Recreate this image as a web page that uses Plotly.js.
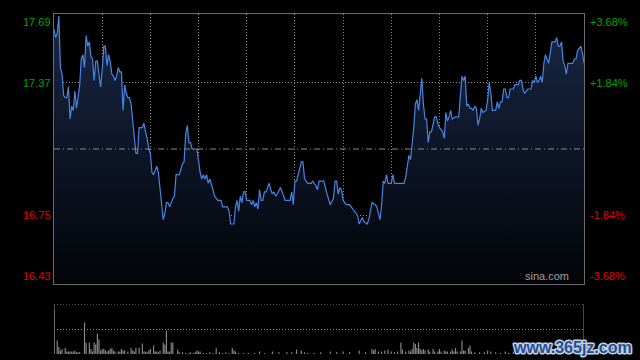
<!DOCTYPE html>
<html>
<head>
<meta charset="utf-8">
<script src="https://cdn.plot.ly/plotly-3.0.1.min.js"></script>
<style>
html,body{margin:0;padding:0;background:#000;}
#chart{width:640px;height:360px;}
g.annotation[data-index="9"] text{stroke:#c8d0dc;stroke-width:3px;paint-order:stroke;stroke-linejoin:round;}
</style>
</head>
<body>
<div id="chart"></div>
<script>
// Minute index (0 = 09:30, 150 = 12:00/13:00, 330 = 16:00) and price
const minutes = [0,1,2,3,4,5,6,7,8,9,10,11,12,13,14,15,16,17,18,19,20,21,22,23,24,25,26,27,28,29,30,31,32,33,34,35,36,37,38,39,40,41,42,43,44,45,46,47,48,49,50,51,52,53,55,56,57,58,59,60,61,62,63,64,65,66,67,68,69,70,71,72,74,75,76,78,80,81,82,83,84,85,86,89,91,92,93,94,95,96,97,98,99,100,102,104,105,108,109,110,112,113,114,115,116,117,118,119,120,122,123,124,125,126,127,128,129,130,131,132,134,135,136,137,138,139,141,142,144,147,148,149,150,151,153,154,155,156,157,158,160,161,163,164,165,168,170,172,174,175,176,177,178,179,180,182,184,186,187,189,190,191,192,193,195,196,197,198,200,201,202,203,204,205,206,207,208,210,211,212,218,219,220,221,222,224,225,226,227,228,229,230,231,232,233,234,235,237,238,239,240,242,243,244,245,246,247,248,250,252,254,255,256,257,258,259,260,261,262,263,264,265,266,267,269,270,271,272,273,275,276,277,278,279,280,281,282,283,284,286,287,289,290,291,292,293,295,297,298,299,300,301,302,303,304,305,306,307,308,309,310,312,313,314,315,316,317,318,319,320,323,324,325,326,328,329,330];
const prices = [17.62,17.58,17.60,17.68,17.44,17.41,17.31,17.30,17.30,17.35,17.20,17.26,17.24,17.33,17.25,17.31,17.36,17.48,17.50,17.44,17.59,17.54,17.56,17.49,17.48,17.38,17.47,17.47,17.40,17.35,17.43,17.54,17.54,17.45,17.50,17.47,17.41,17.40,17.38,17.40,17.44,17.42,17.42,17.24,17.36,17.32,17.30,17.30,17.27,17.20,17.12,17.04,17.04,17.16,17.16,17.18,17.14,17.11,17.06,17.04,16.95,16.94,16.96,16.98,16.95,16.88,16.78,16.73,16.76,16.81,16.81,16.79,16.83,16.84,16.94,16.94,16.99,17.00,17.13,17.17,17.09,17.09,17.06,17.06,16.95,16.92,16.94,16.92,16.94,16.90,16.92,16.90,16.87,16.84,16.82,16.82,16.79,16.79,16.77,16.71,16.71,16.79,16.82,16.77,16.84,16.81,16.86,16.86,16.82,16.82,16.80,16.82,16.79,16.81,16.78,16.87,16.82,16.82,16.86,16.86,16.90,16.87,16.85,16.86,16.84,16.85,16.88,16.86,16.82,16.82,16.86,16.80,16.91,16.91,16.98,17.00,17.00,16.92,16.91,16.90,16.90,16.91,16.89,16.87,16.91,16.91,16.85,16.80,16.83,16.91,16.91,16.85,16.88,16.87,16.82,16.80,16.80,16.78,16.77,16.75,16.71,16.73,16.74,16.72,16.71,16.73,16.77,16.81,16.80,16.79,16.76,16.73,16.80,16.91,16.90,16.94,16.90,16.90,16.94,16.90,16.90,16.93,16.98,17.03,17.01,17.16,17.27,17.29,17.24,17.32,17.39,17.27,17.20,17.20,17.09,17.14,17.14,17.21,17.21,17.18,17.16,17.14,17.11,17.23,17.19,17.21,17.24,17.20,17.21,17.21,17.40,17.38,17.40,17.26,17.27,17.25,17.25,17.24,17.26,17.25,17.17,17.20,17.25,17.23,17.24,17.29,17.37,17.32,17.24,17.24,17.28,17.25,17.28,17.28,17.34,17.34,17.30,17.30,17.34,17.34,17.36,17.36,17.38,17.38,17.34,17.32,17.34,17.34,17.38,17.37,17.40,17.37,17.38,17.40,17.37,17.46,17.50,17.48,17.46,17.51,17.56,17.56,17.58,17.54,17.54,17.56,17.47,17.45,17.41,17.46,17.46,17.48,17.48,17.52,17.54,17.51,17.46];

// Volume per minute (relative units, thousands of shares)
const volMinutes = [0,2,3,4,5,7,8,9,10,11,12,13,14,15,16,19,20,22,23,24,25,26,27,28,29,30,31,32,33,34,35,36,37,38,40,41,42,43,44,46,48,49,50,51,53,55,56,57,58,59,60,62,63,64,65,66,68,69,70,71,72,73,74,77,78,80,82,84,85,87,88,89,90,91,93,95,97,99,101,103,105,107,109,111,112,113,115,118,121,125,128,131,136,140,145,148,151,154,156,158,162,166,172,176,180,184,190,194,198,199,200,202,204,206,208,210,212,214,216,217,219,221,222,223,224,225,226,227,228,229,230,231,233,234,236,237,239,240,241,243,244,245,247,248,249,250,251,253,254,255,256,258,259,260,262,265,268,270,272,275,278,281,283,286,288,290,293,297,300,305,309,313,317,321,325,329];
const volValues = [890,270,140,70,100,120,50,50,50,50,50,70,35,35,35,630,230,230,100,50,230,190,410,290,70,100,100,70,50,70,100,120,70,50,50,50,100,70,70,50,120,70,50,120,120,210,50,50,35,70,100,170,50,50,35,70,230,190,470,50,50,230,230,90,35,35,20,20,35,20,35,70,50,50,20,20,35,20,120,35,20,35,20,120,70,50,20,20,20,20,50,20,50,35,35,35,90,70,35,20,20,35,50,35,50,35,70,35,100,70,100,50,50,70,90,50,35,50,230,90,50,70,50,100,230,200,120,230,100,70,100,70,90,50,100,50,50,100,50,70,50,50,50,90,50,120,50,50,270,70,70,120,170,50,35,35,35,70,50,35,20,50,20,50,20,35,35,50,35,70,50,35,50,35,50,35];

// Axis labels
const prevClose = 17.06;
const leftLabels = ['17.69','17.37','16.75','16.43'];
const rightLabels = ['+3.68%','+1.84%','-1.84%','-3.68%'];
const labelValues = [17.69,17.37,16.75,16.43];
const gridValues = [17.37,16.75];
const timeGrid = [30,60,90,120,150,180,210,240,270,300];

const GREEN = '#00a400', RED = '#e00000';
const annotations = [];
labelValues.forEach((v,i)=>{
  const col = v > prevClose ? GREEN : RED;
  const ya = i===0 ? 'top' : (i===3 ? 'bottom' : 'middle');
  annotations.push({xref:'paper', yref:'y', x:-0.001, y:v, text:leftLabels[i], showarrow:false,
    xanchor:'right', yanchor:ya, font:{family:'Liberation Sans, Arial, sans-serif', size:11, color:col}});
});
labelValues.forEach((v,i)=>{
  const col = v > prevClose ? GREEN : RED;
  const ya = i===0 ? 'top' : (i===3 ? 'bottom' : 'middle');
  annotations.push({xref:'paper', yref:'y', x:1.008, y:v, text:rightLabels[i], showarrow:false,
    xanchor:'left', yanchor:ya, font:{family:'Liberation Sans, Arial, sans-serif', size:11, color:col}});
});
annotations.push({xref:'paper', yref:'y', x:0.975, y:16.43, text:'sina.com', showarrow:false,
  xanchor:'right', yanchor:'bottom', font:{family:'Liberation Sans, Arial, sans-serif', size:11, color:'#a0a0a0'}});
annotations.push({xref:'paper', yref:'paper', x:1.095, y:0.02, text:'www.365jz.com', showarrow:false,
  xanchor:'right', yanchor:'middle', font:{family:'Liberation Sans, Arial, sans-serif', size:16, color:'#1d4f9c', weight:'bold'}});

const priceTrace = {
  x: minutes, y: prices, type:'scatter', mode:'lines',
  line:{color:'#4a84e2', width:1.2},
  fill:'tozeroy',
  fillgradient:{type:'vertical', start:16.43, stop:17.69,
    colorscale:[[0,'#020408'],[0.5,'#0d1527'],[1,'#1a2947']]},
  xaxis:'x', yaxis:'y', hoverinfo:'skip'
};
const volTrace = {
  x: volMinutes, y: volValues, type:'bar', width:0.7,
  marker:{color:'#8c8c8c', line:{width:0}},
  xaxis:'x2', yaxis:'y2', hoverinfo:'skip'
};

const gridCol = '#8a8a8a';
const gridDash = '1px,2px';
const layout = {
  width:640, height:360,
  paper_bgcolor:'#000', plot_bgcolor:'#000',
  margin:{l:54, r:56, t:14, b:6},
  showlegend:false,
  xaxis:{domain:[0,1], anchor:'y', range:[0,330], tickvals:timeGrid, showticklabels:false, ticks:'',
    showgrid:true, gridcolor:gridCol, griddash:gridDash, gridwidth:1,
    showline:true, mirror:true, linecolor:'#6b6b6b', linewidth:1, zeroline:false, fixedrange:true},
  yaxis:{domain:[0.2059,1], anchor:'x', range:[16.43,17.69], tickvals:gridValues, showticklabels:false, ticks:'',
    showgrid:true, gridcolor:gridCol, griddash:gridDash, gridwidth:1,
    showline:true, mirror:true, linecolor:'#6b6b6b', linewidth:1, zeroline:false, fixedrange:true},
  xaxis2:{domain:[0,1], anchor:'y2', range:[0,330], showgrid:false, showticklabels:false, ticks:'',
    zeroline:false, showline:false, fixedrange:true},
  yaxis2:{domain:[0,0.147], anchor:'x2', range:[0,1000], tickvals:[500], showticklabels:false, ticks:'',
    showgrid:true, gridcolor:gridCol, griddash:gridDash, gridwidth:1, zeroline:false, fixedrange:true},
  shapes:[
    {type:'line', xref:'x', yref:'y', x0:0, x1:330, y0:prevClose, y1:prevClose,
      line:{color:'#8a8a8a', width:1, dash:'6px,3px,1px,3px'}},
    {type:'line', xref:'x2', yref:'y2', x0:0, x1:330, y0:1000, y1:1000,
      line:{color:gridCol, width:1, dash:gridDash}},
    {type:'line', xref:'x2', yref:'y2 domain', x0:0, x1:0, y0:0, y1:1,
      line:{color:'#8a8a8a', width:1}},
    {type:'line', xref:'x2', yref:'y2 domain', x0:330, x1:330, y0:0, y1:1,
      line:{color:'#8a8a8a', width:1}}
  ],
  annotations: annotations
};

Plotly.newPlot('chart', [priceTrace, volTrace], layout, {staticPlot:true, displayModeBar:false});
</script>
</body>
</html>
